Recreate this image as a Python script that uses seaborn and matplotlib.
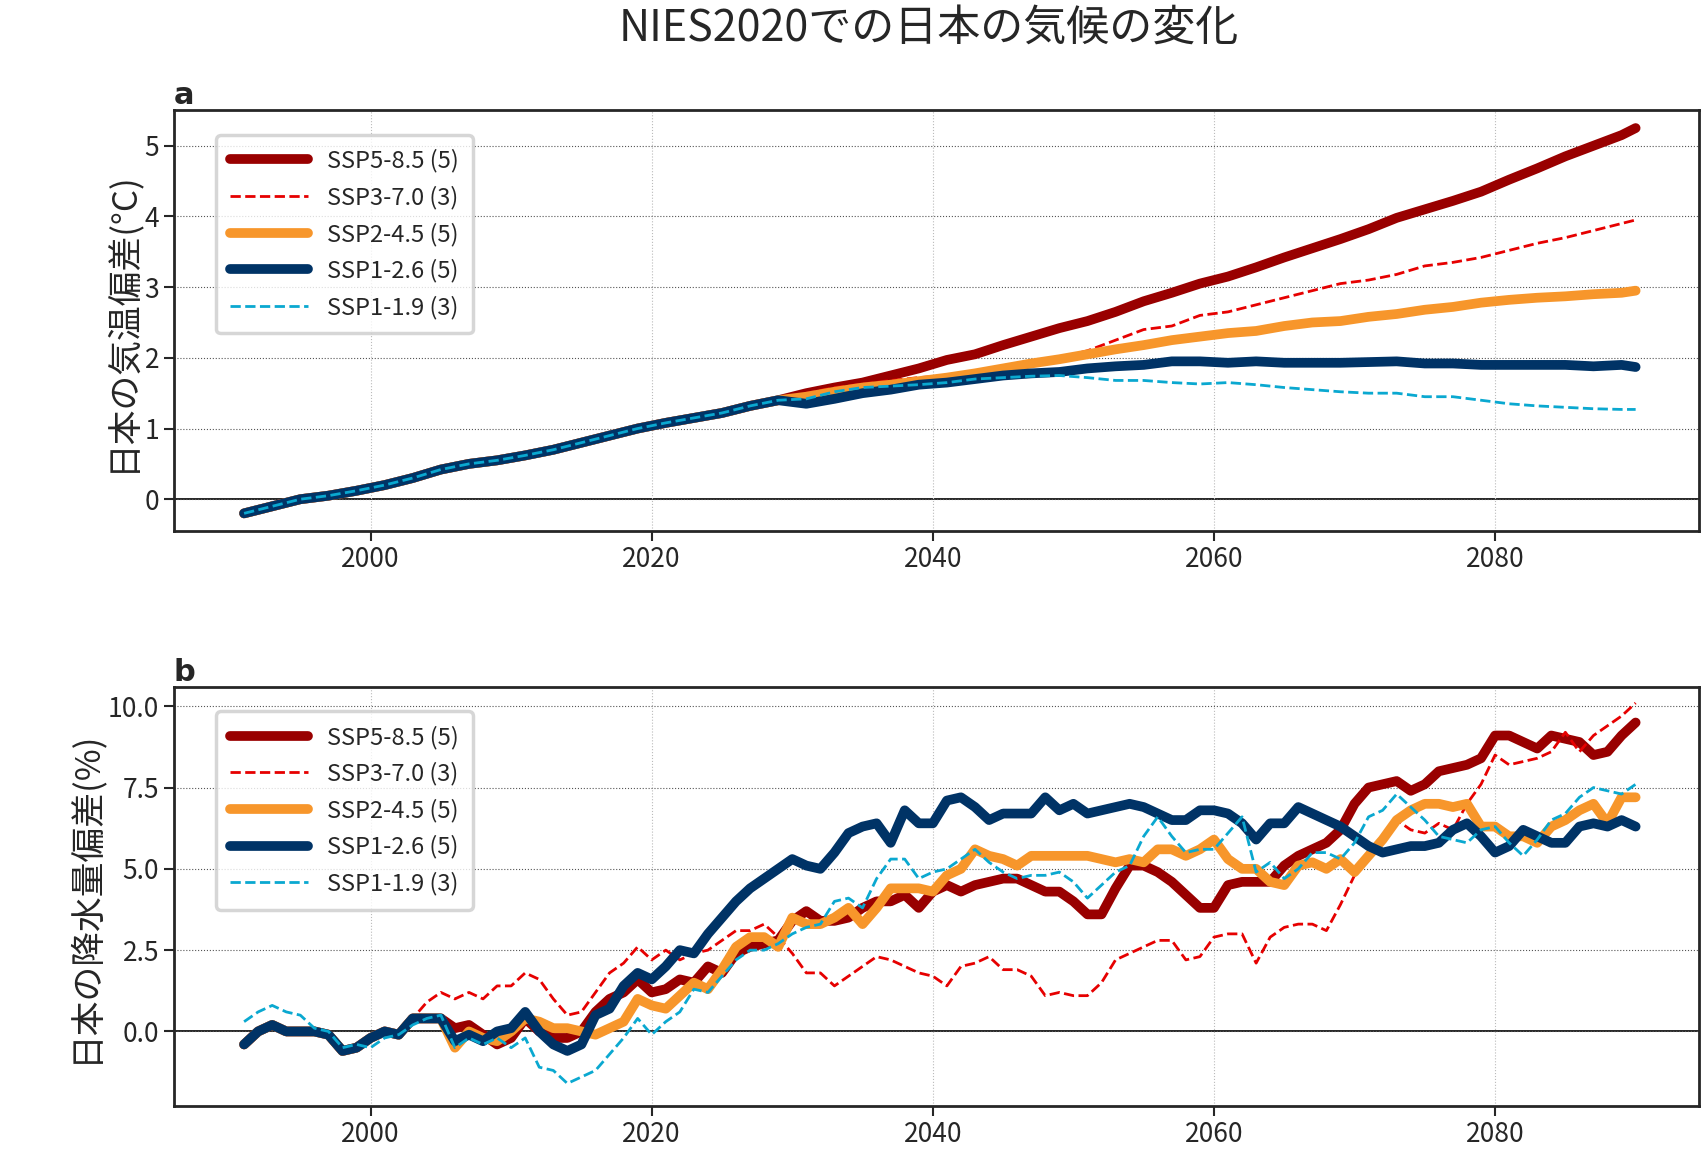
import numpy as np
import pandas as pd
import matplotlib
matplotlib.use("Agg")
import matplotlib.pyplot as plt
import seaborn as sns

sns.set_style("ticks")
plt.rcParams['font.family'] = ['Noto Sans CJK JP', 'DejaVu Sans']

labels = ["SSP5-8.5 (5)", "SSP3-7.0 (3)", "SSP2-4.5 (5)", "SSP1-2.6 (5)", "SSP1-1.9 (3)"]
colors = ["#990000", "#e60000", "#f7962b", "#003366", "#0aa8d0"]
widths = [7, 2, 7, 7, 2]
styles = ["-", "--", "-", "-", "--"]

# ---- panel a: temperature anomaly (°C)
years_a = list(range(1991, 2030, 2)) + list(range(2031, 2090, 2)) + [2090]
base_a = [-0.2, -0.1, 0.0, 0.05, 0.12, 0.2, 0.3, 0.42, 0.5, 0.55, 0.62, 0.7, 0.8, 0.9, 1.0, 1.08, 1.15, 1.22, 1.32, 1.4]
ssp585_a = base_a + [1.5, 1.58, 1.65, 1.75, 1.85, 1.97, 2.05, 2.18, 2.3, 2.42, 2.52, 2.65, 2.8, 2.92, 3.05, 3.15, 3.28, 3.42, 3.55, 3.68, 3.82, 3.98, 4.1, 4.22, 4.35, 4.52, 4.68, 4.85, 5.0, 5.15, 5.25]
ssp370_a = base_a + [1.5, 1.58, 1.63, 1.68, 1.72, 1.75, 1.78, 1.85, 1.9, 2.0, 2.1, 2.25, 2.4, 2.45, 2.6, 2.65, 2.75, 2.85, 2.95, 3.05, 3.1, 3.18, 3.3, 3.35, 3.42, 3.52, 3.62, 3.7, 3.8, 3.9, 3.95]
ssp245_a = base_a + [1.45, 1.52, 1.58, 1.62, 1.67, 1.72, 1.78, 1.85, 1.92, 1.98, 2.05, 2.12, 2.18, 2.25, 2.3, 2.35, 2.38, 2.45, 2.5, 2.52, 2.58, 2.62, 2.68, 2.72, 2.78, 2.82, 2.85, 2.87, 2.9, 2.92, 2.95]
ssp126_a = base_a + [1.35, 1.42, 1.5, 1.55, 1.62, 1.65, 1.7, 1.75, 1.78, 1.8, 1.85, 1.88, 1.9, 1.95, 1.95, 1.93, 1.95, 1.93, 1.93, 1.93, 1.94, 1.95, 1.92, 1.92, 1.9, 1.9, 1.9, 1.9, 1.88, 1.9, 1.87]
ssp119_a = base_a + [1.42, 1.52, 1.58, 1.6, 1.62, 1.65, 1.7, 1.72, 1.74, 1.75, 1.72, 1.68, 1.68, 1.65, 1.63, 1.65, 1.62, 1.58, 1.55, 1.52, 1.5, 1.5, 1.45, 1.45, 1.4, 1.35, 1.32, 1.3, 1.28, 1.27, 1.27]

# ---- panel b: precipitation anomaly (%), yearly from 1991
early_b = [-0.4, 0.0, 0.2, 0.0, 0.0, 0.0, -0.1, -0.6, -0.5, -0.2, 0.0, -0.1, 0.4, 0.4, 0.4]
ssp126_b = early_b + [-0.3, -0.1, -0.3, 0.0, 0.1, 0.6, 0.0, -0.4, -0.6, -0.4, 0.5, 0.7, 1.4, 1.8, 1.6, 2.0, 2.5, 2.4, 3.0, 3.5, 4.0, 4.4, 4.7, 5.0, 5.3, 5.1, 5.0, 5.5, 6.1, 6.3, 6.4, 5.8, 6.8, 6.4, 6.4, 7.1, 7.2, 6.9, 6.5, 6.7, 6.7, 6.7, 7.2, 6.8, 7.0, 6.7, 6.8, 6.9, 7.0, 6.9, 6.7, 6.5, 6.5, 6.8, 6.8, 6.7, 6.4, 5.9, 6.4, 6.4, 6.9, 6.7, 6.5, 6.3, 6.0, 5.7, 5.5, 5.6, 5.7, 5.7, 5.8, 6.2, 6.4, 6.0, 5.5, 5.7, 6.2, 6.0, 5.8, 5.8, 6.3, 6.4, 6.3, 6.5, 6.3]
ssp585_b = early_b + [0.1, 0.2, -0.1, -0.4, -0.2, 0.4, 0.0, -0.2, -0.2, 0.0, 0.6, 1.0, 1.2, 1.6, 1.2, 1.3, 1.6, 1.5, 2.0, 1.8, 2.4, 2.6, 2.7, 2.8, 3.4, 3.7, 3.4, 3.4, 3.5, 3.8, 4.0, 4.0, 4.2, 3.8, 4.3, 4.5, 4.3, 4.5, 4.6, 4.7, 4.7, 4.5, 4.3, 4.3, 4.0, 3.6, 3.6, 4.4, 5.1, 5.1, 4.9, 4.6, 4.2, 3.8, 3.8, 4.5, 4.6, 4.6, 4.6, 5.1, 5.4, 5.6, 5.8, 6.2, 7.0, 7.5, 7.6, 7.7, 7.4, 7.6, 8.0, 8.1, 8.2, 8.4, 9.1, 9.1, 8.9, 8.7, 9.1, 9.0, 8.9, 8.5, 8.6, 9.1, 9.5]
ssp245_b = early_b + [-0.5, 0.0, -0.2, -0.3, 0.0, 0.4, 0.3, 0.1, 0.1, 0.0, -0.1, 0.1, 0.3, 1.0, 0.8, 0.7, 1.1, 1.5, 1.3, 1.9, 2.6, 2.9, 2.9, 2.6, 3.5, 3.3, 3.3, 3.5, 3.8, 3.3, 3.8, 4.4, 4.4, 4.4, 4.3, 4.8, 5.0, 5.6, 5.4, 5.3, 5.1, 5.4, 5.4, 5.4, 5.4, 5.4, 5.3, 5.2, 5.3, 5.2, 5.6, 5.6, 5.4, 5.6, 5.9, 5.3, 5.0, 5.0, 4.6, 4.5, 5.1, 5.2, 5.0, 5.3, 4.9, 5.4, 5.9, 6.5, 6.8, 7.0, 7.0, 6.9, 7.0, 6.3, 6.3, 6.0, 6.0, 5.8, 6.3, 6.5, 6.8, 7.0, 6.4, 7.2, 7.2]
ssp370_b = early_b[:13] + [0.9, 1.2, 1.0, 1.2, 1.0, 1.4, 1.4, 1.8, 1.6, 1.0, 0.5, 0.6, 1.2, 1.8, 2.1, 2.6, 2.2, 2.5, 2.2, 2.4, 2.5, 2.8, 3.1, 3.1, 3.3, 2.9, 2.4, 1.8, 1.8, 1.4, 1.7, 2.0, 2.3, 2.2, 2.0, 1.8, 1.7, 1.4, 2.0, 2.1, 2.3, 1.9, 1.9, 1.7, 1.1, 1.2, 1.1, 1.1, 1.5, 2.2, 2.4, 2.6, 2.8, 2.8, 2.2, 2.3, 2.9, 3.0, 3.0, 2.1, 2.9, 3.2, 3.3, 3.3, 3.1, 3.9, 4.8, 5.5, 5.9, 6.5, 6.2, 6.1, 6.4, 6.2, 7.0, 7.6, 8.5, 8.2, 8.3, 8.4, 8.6, 9.2, 8.6, 9.1, 9.4, 9.7, 10.1]
ssp119_b = [0.3, 0.6, 0.8, 0.6, 0.5, 0.1, 0.0, -0.5, -0.4, -0.5, -0.2, -0.1, 0.2, 0.4, 0.5, -0.5, -0.2, -0.4, -0.2, -0.5, -0.2, -1.1, -1.2, -1.6, -1.4, -1.2, -0.7, -0.2, 0.4, -0.1, 0.3, 0.6, 1.3, 1.2, 1.7, 2.2, 2.5, 2.5, 2.7, 3.0, 3.2, 3.3, 4.0, 4.1, 3.8, 4.7, 5.3, 5.3, 4.7, 4.9, 5.0, 5.3, 5.6, 5.2, 4.9, 4.7, 4.8, 4.8, 4.9, 4.6, 4.1, 4.5, 4.9, 5.1, 6.0, 6.6, 6.0, 5.5, 5.6, 5.6, 6.1, 6.6, 4.9, 5.2, 4.7, 5.0, 5.5, 5.5, 5.3, 5.8, 6.6, 6.8, 7.3, 6.9, 6.5, 6.0, 5.9, 5.8, 6.2, 6.3, 5.8, 5.4, 5.9, 6.5, 6.7, 7.2, 7.5, 7.4, 7.3, 7.6]

series_a = [ssp585_a, ssp370_a, ssp245_a, ssp126_a, ssp119_a]
series_b = [ssp585_b, ssp370_b, ssp245_b, ssp126_b, ssp119_b]

fig = plt.figure(figsize=(17.04, 11.62), dpi=100)
ax1 = fig.add_axes([0.102, 0.543, 0.895, 0.362])
ax2 = fig.add_axes([0.102, 0.048, 0.895, 0.361])

def draw(ax, series, xfun):
    for vals, lab, c, w, s in zip(series, labels, colors, widths, styles):
        x = xfun(vals)
        n = min(len(x), len(vals))
        sns.lineplot(x=np.array(x[:n]), y=np.array(vals[:n]), ax=ax, color=c, lw=w, ls=s, label=lab)
    ax.axhline(0, color="black", lw=1.2, zorder=0)
    ax.set_xlim(1986, 2094.5)
    ax.set_xticks([2000, 2020, 2040, 2060, 2080])
    ax.tick_params(labelsize=19, width=1.5, length=7)
    for sp in ax.spines.values():
        sp.set_linewidth(2)
    ax.grid(axis="y", ls=":", color="#555555", lw=0.8)
    ax.grid(axis="x", ls=":", color="#bbbbbb", lw=0.8)
    ax.set_xlabel("")
    leg = ax.legend(loc="upper left", fontsize=17, frameon=True, borderpad=0.6,
                    handlelength=3.3, labelspacing=0.55, bbox_to_anchor=(0.02, 0.97))
    leg.get_frame().set_edgecolor("#cccccc")
    leg.get_frame().set_linewidth(2.5)

draw(ax1, series_a, lambda v: years_a)
draw(ax2, series_b, lambda v: list(range(1991, 1991 + len(v))))

ax1.set_ylim(-0.45, 5.5)
ax1.set_yticks([0, 1, 2, 3, 4, 5])
ax2.set_ylim(-2.3, 10.6)
ax2.set_yticks([0.0, 2.5, 5.0, 7.5, 10.0])
ax2.set_yticklabels(["0.0", "2.5", "5.0", "7.5", "10.0"])

ax1.set_ylabel("日本の気温偏差(°C)", fontsize=25)
ax2.set_ylabel("日本の降水量偏差(%)", fontsize=25)
ax1.set_title("a", loc="left", fontsize=22, fontweight="bold", x=0.0, pad=4,
              family=['DejaVu Sans'])
ax2.set_title("b", loc="left", fontsize=22, fontweight="bold", x=0.0, pad=4,
              family=['DejaVu Sans'])
fig.text(0.545, 0.975, "NIES2020での日本の気候の変化", ha="center", va="center", fontsize=31)

fig.savefig("out.png", dpi=100)
